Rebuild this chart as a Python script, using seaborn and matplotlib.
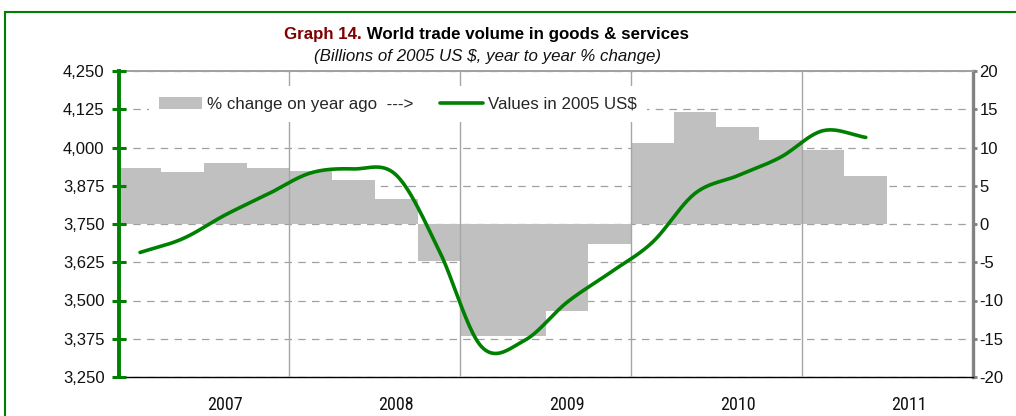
import numpy as np
import pandas as pd
import matplotlib
matplotlib.use("Agg")
import matplotlib.pyplot as plt
import seaborn as sns
from matplotlib import font_manager
from matplotlib.font_manager import FontProperties
from matplotlib.patches import Patch, Rectangle
from matplotlib.lines import Line2D
from matplotlib.ticker import FuncFormatter

# ---- data -------------------------------------------------------------
quarters = ["2007Q1", "2007Q2", "2007Q3", "2007Q4",
            "2008Q1", "2008Q2", "2008Q3", "2008Q4",
            "2009Q1", "2009Q2", "2009Q3", "2009Q4",
            "2010Q1", "2010Q2", "2010Q3", "2010Q4",
            "2011Q1", "2011Q2"]
# year-on-year % change (right axis)
pct_change = [7.3, 6.85, 8.0, 7.3,
              6.95, 5.8, 3.3, -4.9,
              -14.7, -14.7, -11.35, -2.55,
              10.55, 14.6, 12.7, 11.0,
              9.7, 6.3]
# trade volume, billions of 2005 US$ (left axis)
trade_value = [3657, 3702, 3780, 3848,
               3917, 3930, 3910, 3665,
               3349, 3369, 3494, 3590,
               3690, 3850, 3908, 3968,
               4055, 4033]
years = ["2007", "2008", "2009", "2010", "2011"]
n_quarters_axis = 20
left_ticks = [3250, 3375, 3500, 3625, 3750, 3875, 4000, 4125, 4250]
right_ticks = [-20, -15, -10, -5, 0, 5, 10, 15, 20]

GREEN = "#008000"
BAR_GREY = "#c0c0c0"

# ---- style ------------------------------------------------------------
sns.set_style("white")
plt.rcParams["font.family"] = ["Liberation Sans", "DejaVu Sans"]


def narrow_font(size):
    """Pick a condensed sans face for the year labels, if one is installed."""
    fonts = font_manager.fontManager.ttflist

    def regular(f):
        return f.style == "normal" and f.weight in (400, "normal", "regular")

    for pick in (
        lambda f: f.name == "Liberation Sans Narrow",
        lambda f: f.name == "Roboto Condensed",
        lambda f: "condensed" in f.name.lower() and "sans" in f.name.lower(),
        lambda f: f.name == "DejaVu Sans" and f.stretch == "condensed",
        lambda f: "Condensed" in f.fname and "DejaVuSans" in f.fname,
    ):
        found = [f for f in fonts if pick(f) and regular(f)]
        if found:
            return FontProperties(fname=found[0].fname, size=size)
    return FontProperties(family="Liberation Sans", size=size - 1.5)


def catmull_rom(x, y, steps=24):
    """Smooth curve through every point (uniform Catmull-Rom)."""
    x = np.asarray(x, float)
    y = np.asarray(y, float)
    px = np.concatenate([[2 * x[0] - x[1]], x, [2 * x[-1] - x[-2]]])
    py = np.concatenate([[2 * y[0] - y[1]], y, [2 * y[-1] - y[-2]]])
    xs, ys = [], []
    t = np.linspace(0, 1, steps, endpoint=False)
    h00 = 2 * t**3 - 3 * t**2 + 1
    h10 = t**3 - 2 * t**2 + t
    h01 = -2 * t**3 + 3 * t**2
    h11 = t**3 - t**2
    for i in range(1, len(px) - 2):
        for p, out in ((px, xs), (py, ys)):
            m0 = (p[i + 1] - p[i - 1]) / 2
            m1 = (p[i + 2] - p[i]) / 2
            out.append(h00 * p[i] + h10 * m0 + h01 * p[i + 1] + h11 * m1)
    xs = np.concatenate(xs + [[x[-1]]])
    ys = np.concatenate(ys + [[y[-1]]])
    return xs, ys


W, H = 1016, 416
fig = plt.figure(figsize=(W / 100, H / 100), dpi=100)
left_px, right_px, top_px, bottom_px = 118.7, 972.5, 71, 377
ax = fig.add_axes([left_px / W, 1 - bottom_px / H,
                   (right_px - left_px) / W, (bottom_px - top_px) / H])

# ---- bars: % change on right axis ---------------------------------------
df = pd.DataFrame({"quarter": quarters, "pct": pct_change})
sns.barplot(data=df, x="quarter", y="pct", color=BAR_GREY, saturation=1,
            width=1.0, edgecolor="none", linewidth=0, antialiased=False,
            ax=ax, zorder=2)
ax.set_xlim(-0.5, n_quarters_axis - 0.5)
ax.set_ylim(right_ticks[0], right_ticks[-1])
ax.set_xlabel("")
ax.set_ylabel("")

# ---- line: trade value on left axis -------------------------------------
ax2 = ax.twinx()
xpos = np.arange(len(trade_value))
sx, sy = catmull_rom(xpos, trade_value)
sns.lineplot(x=sx, y=sy, color=GREEN, linewidth=2.6, sort=False,
             estimator=None, ax=ax2, zorder=5)
ax2.set_ylim(left_ticks[0], left_ticks[-1])
ax2.set_ylabel("")

# ---- axes decoration ----------------------------------------------------
year_bounds = [4 * i - 0.5 for i in range(len(years) + 1)]
year_label_pos = [4 * i + 2 for i in range(len(years))]

ax.yaxis.tick_right()
ax.set_yticks(right_ticks)
ax.set_yticklabels([str(v) for v in right_ticks])
ax.tick_params(axis="y", which="major", direction="out", length=3, width=2,
               color="#808080", pad=2.0, labelsize=12, labelcolor="#111111",
               left=False, labelleft=False, right=True, labelright=True)
ax.yaxis.grid(True, color="#a0a0a0", linestyle=(0, (6, 5)), linewidth=0.9)
ax.set_axisbelow(True)

ax.set_xticks(year_bounds)
ax.set_xticklabels([""] * len(year_bounds))
ax.set_xticks(year_label_pos, minor=True)
ax.set_xticklabels(years, minor=True, fontproperties=narrow_font(13),
                   color="#111111")
ax.tick_params(axis="x", which="major", direction="inout", length=6,
               width=1, color="black")
ax.tick_params(axis="x", which="minor", length=0, pad=14)
ax.xaxis.grid(False)

ax.spines["left"].set_visible(False)
ax.spines["right"].set_color("#808080")
ax.spines["right"].set_linewidth(2.4)
ax.spines["top"].set_color("#a0a0a0")
ax.spines["top"].set_linewidth(1.4)
ax.spines["bottom"].set_color("black")
ax.spines["bottom"].set_linewidth(1.0)

# left (value) axis
ax2.yaxis.tick_left()
ax2.set_yticks(left_ticks)
ax2.yaxis.set_major_formatter(FuncFormatter(lambda v, _: f"{v:,.0f}"))
ax2.tick_params(axis="y", direction="inout", length=10, width=2.2,
                color=GREEN, pad=5.2, labelsize=12, labelcolor="#111111",
                right=False, labelright=False, left=True, labelleft=True)
for side in ("right", "top", "bottom"):
    ax2.spines[side].set_visible(False)
ax2.spines["left"].set_color(GREEN)
ax2.spines["left"].set_linewidth(2.8)
ax2.patch.set_visible(False)

# vertical year separators drawn above the bars
ax2.xaxis.set_visible(True)
ax2.tick_params(axis="x", which="both", bottom=False, top=False,
                labelbottom=False, labeltop=False)
ax2.xaxis.grid(True, which="major", color="#a6a6a6", linewidth=1.0)
ax2.yaxis.grid(False)
ax2.set_axisbelow(True)

# ---- legend ---------------------------------------------------------------
handles = [Patch(facecolor=BAR_GREY, edgecolor="none"),
           Line2D([], [], color=GREEN, linewidth=2.6)]
labels = ["% change on year ago  --->", "Values in 2005 US$"]
leg = ax2.legend(handles, labels, ncol=2, loc="center left",
                 bbox_to_anchor=(149 / W, 1 - 104 / H),
                 bbox_transform=fig.transFigure, frameon=True, fancybox=False,
                 framealpha=1, facecolor="white", borderaxespad=0,
                 borderpad=0.6, handlelength=2.55, handletextpad=0.3,
                 columnspacing=1.55, prop={"size": 12.2})
leg.get_frame().set_linewidth(0)
leg.set_zorder(10)

# ---- titles ---------------------------------------------------------------
renderer = fig.canvas.get_renderer()
t1 = fig.text(284 / W, 1 - 34 / H, "Graph 14.", color="#800000",
              fontsize=12.2, fontweight="bold", ha="left", va="center")
bb = t1.get_window_extent(renderer)
fig.text(bb.x1 / W, 1 - 34 / H, " World trade volume in goods & services",
         color="black", fontsize=12.2, fontweight="bold", ha="left", va="center")
fig.text(487.5 / W, 1 - 57 / H, "(Billions of 2005 US $, year to year % change)",
         color="#111111", fontsize=12.2, fontstyle="italic", ha="center",
         va="center")

# outer frame
fig.add_artist(Rectangle((4.5 / W, -0.1), 1.2, 1.1 - 11.5 / H,
                         transform=fig.transFigure, fill=False,
                         edgecolor=GREEN, linewidth=1.5))

fig.savefig("out.png", dpi=100)
